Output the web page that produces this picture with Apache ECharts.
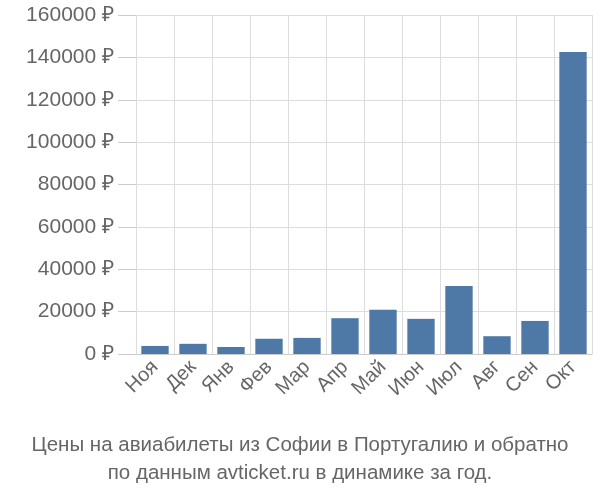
<!DOCTYPE html>
<html><head><meta charset="utf-8">
<script src="https://cdn.jsdelivr.net/npm/echarts@6/dist/echarts.min.js"></script>
<style>body{margin:0}#c{width:600px;height:500px}</style></head>
<body><div id="c"></div>
<script>
const categories=["Ноя","Дек","Янв","Фев","Мар","Апр","Май","Июн","Июл","Авг","Сен","Окт"];
const values=[3800,4800,3300,7200,7600,16900,20900,16600,32100,8400,15600,142500];
const chart=echarts.init(document.getElementById('c'));
chart.setOption({
 animation:false,
 title:{text:"Цены на авиабилеты из Софии в Португалию и обратно\nпо данным avticket.ru в динамике за год.",left:'center',bottom:8,
  textStyle:{fontFamily:'Liberation Sans, Arial',fontSize:20.5,fontWeight:'normal',color:'#666',lineHeight:28}},
 grid:{left:136,right:8,top:15,bottom:146},
 xAxis:{type:'category',data:categories,boundaryGap:true,
  axisLine:{lineStyle:{color:'#ccc'}},axisTick:{show:false},
  splitLine:{show:true,lineStyle:{color:'#ddd'}},
  axisLabel:{rotate:45,fontSize:20,color:'#666',fontFamily:'Liberation Sans, Arial',interval:0,margin:10}},
 yAxis:{type:'value',min:0,max:160000,interval:20000,
  axisLine:{show:false},axisTick:{show:true,length:18,lineStyle:{color:'#ccc'}},
  splitLine:{lineStyle:{color:'#ddd'}},
  axisLabel:{formatter:v=>v+' ₽',fontSize:21,color:'#666',fontFamily:'Liberation Sans, Arial',margin:22}},
 series:[{type:'bar',data:values,barWidth:'72%',itemStyle:{color:'#4e79a7'}}]
});
</script></body></html>
